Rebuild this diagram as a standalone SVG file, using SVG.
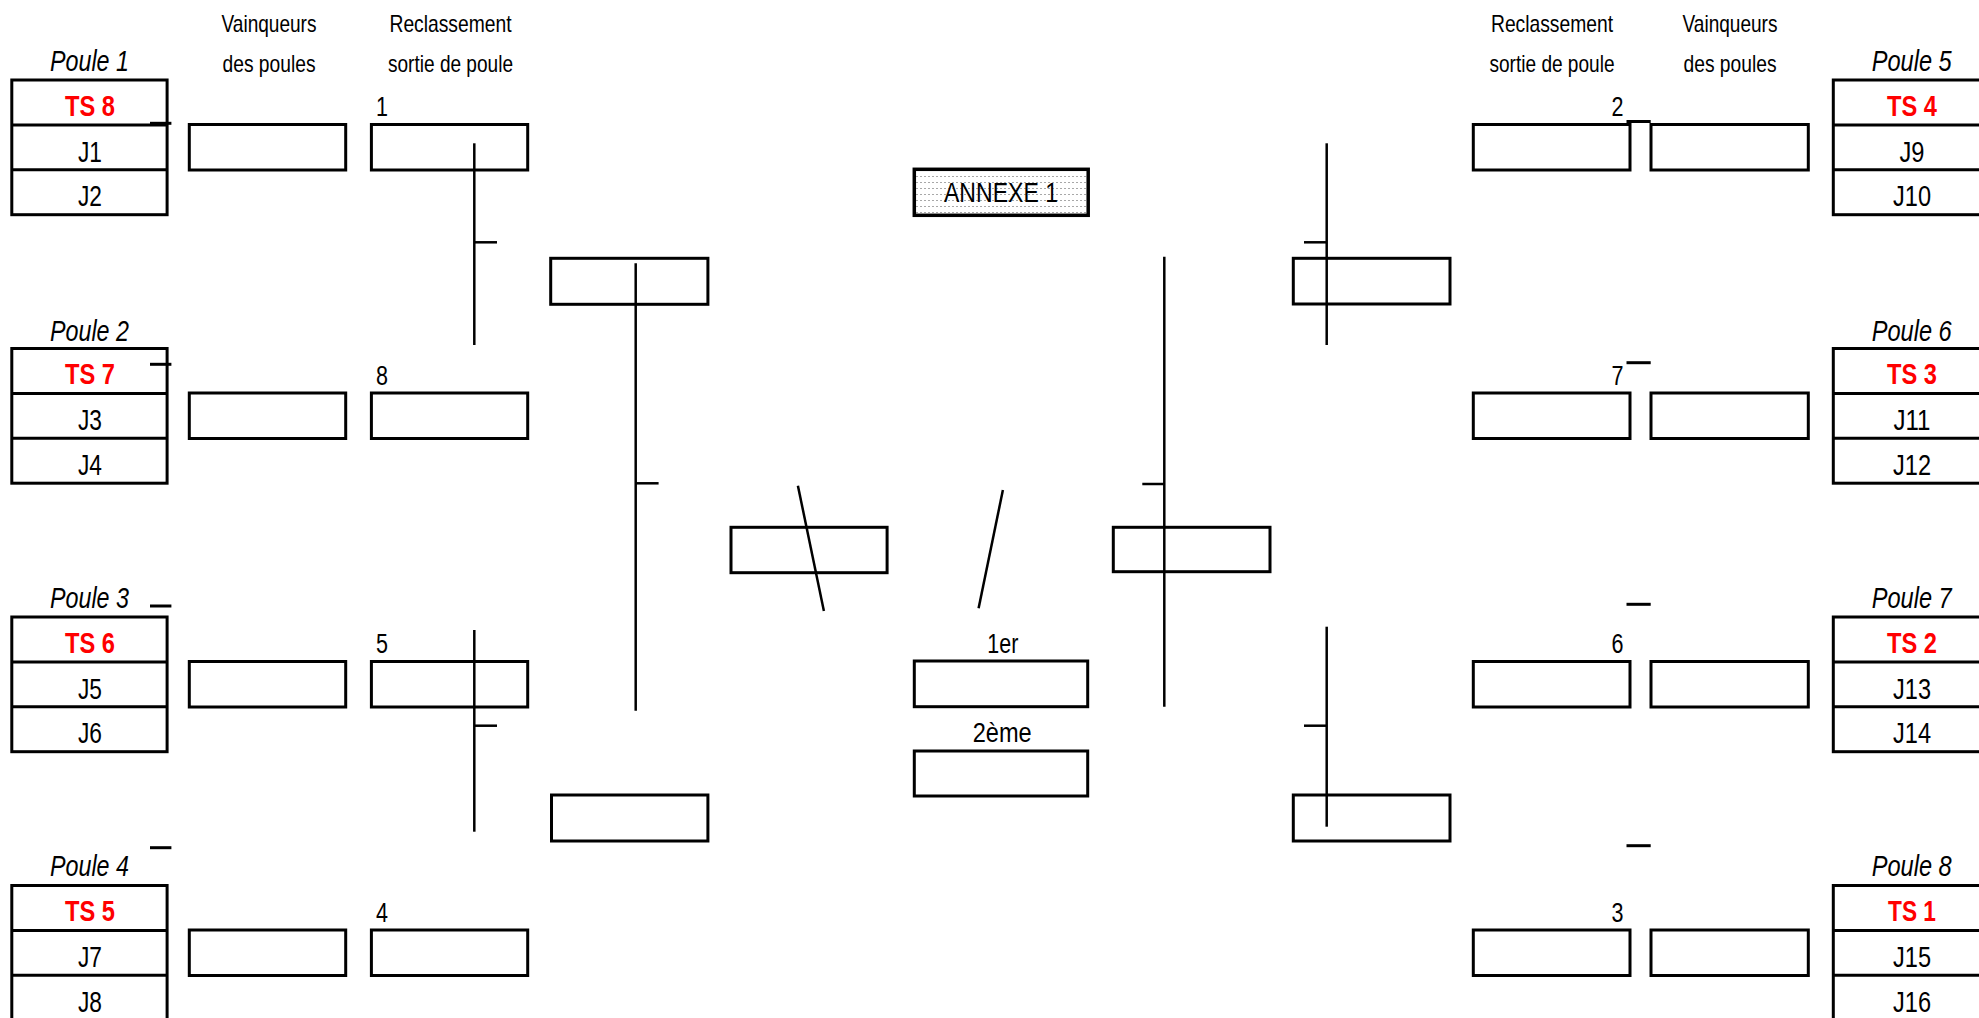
<svg xmlns="http://www.w3.org/2000/svg" width="1979" height="1018" viewBox="0 0 1979 1018">
<style>
  .bx{fill:#fff;stroke:#000;stroke-width:3}
  .ln{stroke:#000;stroke-width:2.5;fill:none}
  .dv{stroke:#000;stroke-width:3}
  text{font-family:"Liberation Sans Narrow","Liberation Sans",Arial,sans-serif;fill:#000}
  .hd{font-size:24px;text-anchor:middle}
  .pl{font-size:29px;font-style:italic;text-anchor:middle}
  .ts{font-size:29px;font-weight:bold;fill:#ff0000;text-anchor:middle}
  .jj{font-size:29px;text-anchor:middle}
  .nm{font-size:27px}
  .ct{font-size:27px;text-anchor:middle}
</style>
<defs>
  <pattern id="dots" x="0" y="0" width="4" height="6" patternUnits="userSpaceOnUse">
    <rect x="0" y="2" width="2" height="1" fill="#a8a8a8"/>
  </pattern>
</defs>

<g id="headers">
  <text class="hd" x="269" y="32" textLength="95" lengthAdjust="spacingAndGlyphs">Vainqueurs</text>
  <text class="hd" x="269" y="72" textLength="93" lengthAdjust="spacingAndGlyphs">des poules</text>
  <text class="hd" x="450.5" y="32" textLength="122" lengthAdjust="spacingAndGlyphs">Reclassement</text>
  <text class="hd" x="450.5" y="72" textLength="125" lengthAdjust="spacingAndGlyphs">sortie de poule</text>
  <text class="hd" x="1552" y="32" textLength="122" lengthAdjust="spacingAndGlyphs">Reclassement</text>
  <text class="hd" x="1552" y="72" textLength="125" lengthAdjust="spacingAndGlyphs">sortie de poule</text>
  <text class="hd" x="1730" y="32" textLength="95" lengthAdjust="spacingAndGlyphs">Vainqueurs</text>
  <text class="hd" x="1730" y="72" textLength="93" lengthAdjust="spacingAndGlyphs">des poules</text>
</g>

<!-- Left poules -->
<g id="poule1">
  <text class="pl" x="89.5" y="71" textLength="79" lengthAdjust="spacingAndGlyphs">Poule 1</text>
  <rect class="bx" x="11.8" y="80" width="155.3" height="134.7"/>
  <line class="dv" x1="11.8" y1="124.9" x2="167.1" y2="124.9"/>
  <line class="dv" x1="11.8" y1="169.8" x2="167.1" y2="169.8"/>
  <text class="ts" x="90" y="115.7" textLength="50" lengthAdjust="spacingAndGlyphs">TS 8</text>
  <text class="jj" x="90" y="161.5" textLength="24" lengthAdjust="spacingAndGlyphs">J1</text>
  <text class="jj" x="90" y="206" textLength="24" lengthAdjust="spacingAndGlyphs">J2</text>
</g>
<g id="poule2">
  <text class="pl" x="89.5" y="340.7" textLength="79" lengthAdjust="spacingAndGlyphs">Poule 2</text>
  <rect class="bx" x="11.8" y="348.5" width="155.3" height="134.7"/>
  <line class="dv" x1="11.8" y1="393.4" x2="167.1" y2="393.4"/>
  <line class="dv" x1="11.8" y1="438.3" x2="167.1" y2="438.3"/>
  <text class="ts" x="90" y="384.2" textLength="50" lengthAdjust="spacingAndGlyphs">TS 7</text>
  <text class="jj" x="90" y="430" textLength="24" lengthAdjust="spacingAndGlyphs">J3</text>
  <text class="jj" x="90" y="474.5" textLength="24" lengthAdjust="spacingAndGlyphs">J4</text>
</g>
<g id="poule3">
  <text class="pl" x="89.5" y="608.3" textLength="79" lengthAdjust="spacingAndGlyphs">Poule 3</text>
  <rect class="bx" x="11.8" y="617" width="155.3" height="134.7"/>
  <line class="dv" x1="11.8" y1="661.9" x2="167.1" y2="661.9"/>
  <line class="dv" x1="11.8" y1="706.8" x2="167.1" y2="706.8"/>
  <text class="ts" x="90" y="652.7" textLength="50" lengthAdjust="spacingAndGlyphs">TS 6</text>
  <text class="jj" x="90" y="698.5" textLength="24" lengthAdjust="spacingAndGlyphs">J5</text>
  <text class="jj" x="90" y="743" textLength="24" lengthAdjust="spacingAndGlyphs">J6</text>
</g>
<g id="poule4">
  <text class="pl" x="89.5" y="876" textLength="79" lengthAdjust="spacingAndGlyphs">Poule 4</text>
  <rect class="bx" x="11.8" y="885.5" width="155.3" height="134.7"/>
  <line class="dv" x1="11.8" y1="930.4" x2="167.1" y2="930.4"/>
  <line class="dv" x1="11.8" y1="975.3" x2="167.1" y2="975.3"/>
  <text class="ts" x="90" y="921.2" textLength="50" lengthAdjust="spacingAndGlyphs">TS 5</text>
  <text class="jj" x="90" y="967" textLength="24" lengthAdjust="spacingAndGlyphs">J7</text>
  <text class="jj" x="90" y="1011.5" textLength="24" lengthAdjust="spacingAndGlyphs">J8</text>
</g>

<!-- Right poules -->
<g id="poule5">
  <text class="pl" x="1911.7" y="71" textLength="80" lengthAdjust="spacingAndGlyphs">Poule 5</text>
  <rect class="bx" x="1833.3" y="80" width="160" height="134.7"/>
  <line class="dv" x1="1833.3" y1="124.9" x2="1993" y2="124.9"/>
  <line class="dv" x1="1833.3" y1="169.8" x2="1993" y2="169.8"/>
  <text class="ts" x="1912" y="115.7" textLength="50" lengthAdjust="spacingAndGlyphs">TS 4</text>
  <text class="jj" x="1912" y="161.5" textLength="25" lengthAdjust="spacingAndGlyphs">J9</text>
  <text class="jj" x="1912" y="206" textLength="38" lengthAdjust="spacingAndGlyphs">J10</text>
</g>
<g id="poule6">
  <text class="pl" x="1911.7" y="340.7" textLength="80" lengthAdjust="spacingAndGlyphs">Poule 6</text>
  <rect class="bx" x="1833.3" y="348.5" width="160" height="134.7"/>
  <line class="dv" x1="1833.3" y1="393.4" x2="1993" y2="393.4"/>
  <line class="dv" x1="1833.3" y1="438.3" x2="1993" y2="438.3"/>
  <text class="ts" x="1912" y="384.2" textLength="50" lengthAdjust="spacingAndGlyphs">TS 3</text>
  <text class="jj" x="1912" y="430" textLength="37" lengthAdjust="spacingAndGlyphs">J11</text>
  <text class="jj" x="1912" y="474.5" textLength="38" lengthAdjust="spacingAndGlyphs">J12</text>
</g>
<g id="poule7">
  <text class="pl" x="1911.7" y="608.3" textLength="80" lengthAdjust="spacingAndGlyphs">Poule 7</text>
  <rect class="bx" x="1833.3" y="617" width="160" height="134.7"/>
  <line class="dv" x1="1833.3" y1="661.9" x2="1993" y2="661.9"/>
  <line class="dv" x1="1833.3" y1="706.8" x2="1993" y2="706.8"/>
  <text class="ts" x="1912" y="652.7" textLength="50" lengthAdjust="spacingAndGlyphs">TS 2</text>
  <text class="jj" x="1912" y="698.5" textLength="38" lengthAdjust="spacingAndGlyphs">J13</text>
  <text class="jj" x="1912" y="743" textLength="38" lengthAdjust="spacingAndGlyphs">J14</text>
</g>
<g id="poule8">
  <text class="pl" x="1911.7" y="876" textLength="80" lengthAdjust="spacingAndGlyphs">Poule 8</text>
  <rect class="bx" x="1833.3" y="885.5" width="160" height="134.7"/>
  <line class="dv" x1="1833.3" y1="930.4" x2="1993" y2="930.4"/>
  <line class="dv" x1="1833.3" y1="975.3" x2="1993" y2="975.3"/>
  <text class="ts" x="1912" y="921.2" textLength="48" lengthAdjust="spacingAndGlyphs">TS 1</text>
  <text class="jj" x="1912" y="967" textLength="38" lengthAdjust="spacingAndGlyphs">J15</text>
  <text class="jj" x="1912" y="1011.5" textLength="38" lengthAdjust="spacingAndGlyphs">J16</text>
</g>

<!-- Left winners / reclass boxes -->
<g id="vainq-L1"><rect class="bx" x="189.3" y="124.5" width="156.4" height="45.5"/></g>
<g id="vainq-L2"><rect class="bx" x="189.3" y="393" width="156.4" height="45.5"/></g>
<g id="vainq-L3"><rect class="bx" x="189.3" y="661.5" width="156.4" height="45.5"/></g>
<g id="vainq-L4"><rect class="bx" x="189.3" y="930" width="156.4" height="45.5"/></g>
<g id="reclass-1"><text class="nm" x="376" y="116" textLength="12" lengthAdjust="spacingAndGlyphs">1</text><rect class="bx" x="371.4" y="124.5" width="156.3" height="45.5"/></g>
<g id="reclass-8"><text class="nm" x="376" y="384.5" textLength="12" lengthAdjust="spacingAndGlyphs">8</text><rect class="bx" x="371.4" y="393" width="156.3" height="45.5"/></g>
<g id="reclass-5"><text class="nm" x="376" y="652.5" textLength="12" lengthAdjust="spacingAndGlyphs">5</text><rect class="bx" x="371.4" y="661.5" width="156.3" height="45.5"/></g>
<g id="reclass-4"><text class="nm" x="376" y="921.5" textLength="12" lengthAdjust="spacingAndGlyphs">4</text><rect class="bx" x="371.4" y="930" width="156.3" height="45.5"/></g>

<!-- Right winners / reclass boxes -->
<g id="reclass-2"><text class="nm" x="1623.5" y="116" text-anchor="end" textLength="12" lengthAdjust="spacingAndGlyphs">2</text><rect class="bx" x="1473.3" y="124.5" width="156.7" height="45.5"/></g>
<g id="reclass-7"><text class="nm" x="1623.5" y="384.5" text-anchor="end" textLength="12" lengthAdjust="spacingAndGlyphs">7</text><rect class="bx" x="1473.3" y="393" width="156.7" height="45.5"/></g>
<g id="reclass-6"><text class="nm" x="1623.5" y="652.5" text-anchor="end" textLength="12" lengthAdjust="spacingAndGlyphs">6</text><rect class="bx" x="1473.3" y="661.5" width="156.7" height="45.5"/></g>
<g id="reclass-3"><text class="nm" x="1623.5" y="921.5" text-anchor="end" textLength="12" lengthAdjust="spacingAndGlyphs">3</text><rect class="bx" x="1473.3" y="930" width="156.7" height="45.5"/></g>
<g id="vainq-R1"><rect class="bx" x="1651" y="124.5" width="157.3" height="45.5"/></g>
<g id="vainq-R2"><rect class="bx" x="1651" y="393" width="157.3" height="45.5"/></g>
<g id="vainq-R3"><rect class="bx" x="1651" y="661.5" width="157.3" height="45.5"/></g>
<g id="vainq-R4"><rect class="bx" x="1651" y="930" width="157.3" height="45.5"/></g>

<!-- Quarter / semi boxes -->
<g id="qf-L1"><rect class="bx" x="550.7" y="258.3" width="157.2" height="46"/></g>
<g id="qf-L2"><rect class="bx" x="551.5" y="795" width="156.4" height="46"/></g>
<g id="sf-L"><rect class="bx" x="731" y="527.3" width="156.1" height="45.4"/></g>
<g id="qf-R1"><rect class="bx" x="1293.3" y="258.3" width="156.7" height="45.7"/></g>
<g id="qf-R2"><rect class="bx" x="1293.3" y="795" width="156.7" height="46"/></g>
<g id="sf-R"><rect class="bx" x="1113.3" y="527.3" width="156.7" height="44.4"/></g>

<!-- Center -->
<g id="annexe">
  <rect x="914.3" y="169.3" width="173.9" height="46" fill="url(#dots)" stroke="#000" stroke-width="3.5"/>
  <text class="ct" x="1001" y="202.3" textLength="114" lengthAdjust="spacingAndGlyphs">ANNEXE 1</text>
</g>
<g id="premier">
  <text class="ct" x="1002.8" y="652.7" textLength="31" lengthAdjust="spacingAndGlyphs">1er</text>
  <rect class="bx" x="914.3" y="661" width="173.4" height="45.7"/>
</g>
<g id="deuxieme">
  <text class="ct" x="1002.2" y="741.7" textLength="59" lengthAdjust="spacingAndGlyphs">2ème</text>
  <rect class="bx" x="914.3" y="751" width="173.4" height="45"/>
</g>

<g id="connectors">
  <!-- left ticks -->
  <line class="dv" x1="150" y1="123.3" x2="171.4" y2="123.3"/>
  <line class="dv" x1="150" y1="364.3" x2="171.4" y2="364.3"/>
  <line class="dv" x1="150" y1="606" x2="171.4" y2="606"/>
  <line class="dv" x1="150" y1="847.7" x2="171.4" y2="847.7"/>
  <!-- right ticks -->
  <line class="dv" x1="1626.5" y1="121.5" x2="1650.7" y2="121.5"/>
  <line class="dv" x1="1626.5" y1="362.7" x2="1650.7" y2="362.7"/>
  <line class="dv" x1="1626.5" y1="604.3" x2="1650.7" y2="604.3"/>
  <line class="dv" x1="1626.5" y1="845.7" x2="1650.7" y2="845.7"/>
  <!-- left brackets -->
  <line class="ln" x1="474.3" y1="143.3" x2="474.3" y2="345"/>
  <line class="ln" x1="474.3" y1="242.3" x2="497" y2="242.3"/>
  <line class="ln" x1="474.3" y1="630" x2="474.3" y2="831.7"/>
  <line class="ln" x1="474.3" y1="725.7" x2="497" y2="725.7"/>
  <line class="ln" x1="635.7" y1="263.3" x2="635.7" y2="710.7"/>
  <line class="ln" x1="635.7" y1="483.3" x2="658.6" y2="483.3"/>
  <!-- right brackets -->
  <line class="ln" x1="1326.7" y1="143.3" x2="1326.7" y2="345"/>
  <line class="ln" x1="1304" y1="242.3" x2="1326.7" y2="242.3"/>
  <line class="ln" x1="1326.7" y1="626.7" x2="1326.7" y2="826.7"/>
  <line class="ln" x1="1304" y1="725.7" x2="1326.7" y2="725.7"/>
  <line class="ln" x1="1164.3" y1="256.7" x2="1164.3" y2="706.7"/>
  <line class="ln" x1="1142.3" y1="484" x2="1164.3" y2="484"/>
  <!-- diagonals -->
  <line class="ln" x1="797.9" y1="485.7" x2="823.9" y2="611"/>
  <line class="ln" x1="1002.9" y1="490" x2="978.6" y2="608.3"/>
</g>
</svg>
